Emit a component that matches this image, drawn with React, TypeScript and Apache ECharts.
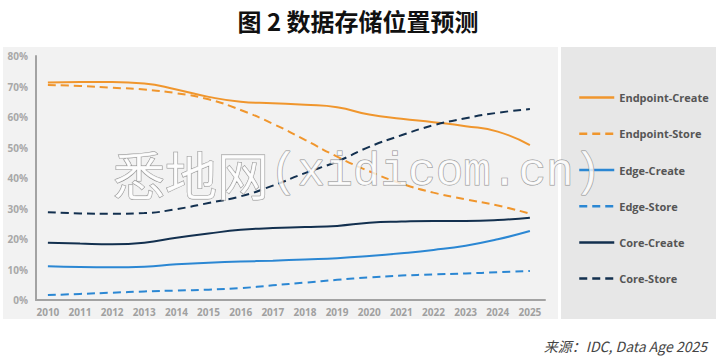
import React, { useEffect, useRef } from "react";
import * as echarts from "echarts";

const years = [2010, 2011, 2012, 2013, 2014, 2015, 2016, 2017, 2018, 2019, 2020, 2021, 2022, 2023, 2024, 2025];
const endpointCreate = [71.3, 71.5, 71.5, 71, 69, 66.6, 65, 64.5, 64, 63.2, 60.8, 59.4, 58.3, 57, 55.2, 50.8];
const endpointStore = [70.5, 70.2, 69.6, 69, 67.8, 65.8, 62.3, 57.8, 52.5, 47, 42.2, 38.2, 35.2, 33, 31, 28.3];
const edgeCreate = [11.1, 10.8, 10.7, 10.9, 11.7, 12.2, 12.6, 12.9, 13.3, 13.7, 14.4, 15.3, 16.4, 17.8, 19.9, 22.6];
const edgeStore = [1.6, 2.0, 2.4, 2.8, 3.1, 3.4, 3.9, 4.8, 5.7, 6.6, 7.4, 8.0, 8.4, 8.7, 9.1, 9.5];
const coreCreate = [18.8, 18.5, 18.3, 18.8, 20.4, 21.8, 23.0, 23.6, 23.9, 24.3, 25.3, 25.7, 25.9, 25.9, 26.2, 27.0];
const coreStore = [28.8, 28.4, 28.3, 28.5, 29.8, 31.8, 34.0, 37.5, 41.6, 45.4, 50.2, 54.0, 57.3, 59.6, 61.4, 62.6];
const yTicks = [0, 10, 20, 30, 40, 50, 60, 70, 80];

const ORANGE = "#f0962d";
const BLUE = "#2b87d3";
const NAVY = "#13304f";

const seriesDefs = [
  { name: "Endpoint-Create", data: endpointCreate, color: ORANGE, dashed: false },
  { name: "Endpoint-Store", data: endpointStore, color: ORANGE, dashed: true },
  { name: "Edge-Create", data: edgeCreate, color: BLUE, dashed: false },
  { name: "Edge-Store", data: edgeStore, color: BLUE, dashed: true },
  { name: "Core-Create", data: coreCreate, color: NAVY, dashed: false },
  { name: "Core-Store", data: coreStore, color: NAVY, dashed: true },
];

export default function App() {
  const ref = useRef<HTMLDivElement>(null);
  useEffect(() => {
    if (!ref.current) return;
    const chart = echarts.init(ref.current, null, { renderer: "svg" });
    const option: any = {
      animation: false,
      backgroundColor: "#ffffff",
      title: {
        text: "图 2 数据存储位置预测",
        left: "center",
        top: 3,
        textStyle: {
          fontFamily: "Noto Sans CJK SC",
          fontWeight: "bold",
          fontSize: 24,
          color: "#111",
        },
      },
      grid: { left: 36, right: 171, top: 56, bottom: 56 },
      xAxis: {
        type: "value",
        min: 2009.63,
        max: 2025.47,
        splitLine: { show: false },
        axisLine: { show: true, lineStyle: { color: "#a3a3a3", width: 2 } },
        axisTick: { show: false },
        axisLabel: {
          customValues: years,
          formatter: (v: number) => String(Math.round(v)),
          color: "#a0a0a0",
          fontWeight: "bold",
          fontSize: 10,
          fontFamily: "Open Sans",
          margin: 7,
        },
      },
      yAxis: {
        type: "value",
        min: 0,
        max: 80,
        interval: 10,
        splitLine: { show: false },
        axisLine: { show: true, lineStyle: { color: "#a3a3a3", width: 2 } },
        axisTick: { show: false },
        axisLabel: {
          customValues: yTicks,
          formatter: "{value}%",
          color: "#a8a8a8",
          fontWeight: "bold",
          fontSize: 10,
          fontFamily: "Open Sans",
          margin: 8,
        },
      },
      legend: {
        orient: "vertical",
        left: 573,
        top: 87,
        itemWidth: 35,
        itemHeight: 14,
        itemGap: 25,
        itemStyle: { opacity: 0, borderWidth: 0 },
        lineStyle: { width: 2.5 },
        textStyle: {
          color: "#555",
          fontWeight: "bold",
          fontSize: 11,
          fontFamily: "Open Sans",
          padding: [0, 0, 0, 0],
        },
        data: seriesDefs.map((s) => s.name),
      },
      series: seriesDefs.map((s) => ({
        name: s.name,
        type: "line",
        smooth: true,
        symbol: "none",
        data: s.data.map((v, i) => [years[i], v]),
        itemStyle: { color: s.color },
        lineStyle: {
          color: s.color,
          width: 2,
          type: s.dashed ? [8, 5] : "solid",
        },
        z: 3,
      })),
      graphic: [
        {
          type: "rect",
          z: -10,
          silent: true,
          shape: { x: 3, y: 47, width: 555, height: 272 },
          style: { fill: "#f2f2f2" },
        },
        {
          type: "rect",
          z: -10,
          silent: true,
          shape: { x: 561, y: 47, width: 155, height: 272 },
          style: { fill: "#e7e7e7" },
        },
        {
          type: "text",
          z: 100,
          silent: true,
          x: 113,
          y: 173,
          style: {
            text: "悉地网",
            font: "52px 'Noto Sans CJK SC'",
            fill: "rgba(255,255,255,0.8)",
            stroke: "#8f8f8f",
            lineWidth: 1,
            textVerticalAlign: "middle",
          },
        },
        {
          type: "text",
          z: 100,
          silent: true,
          x: 270,
          y: 173,
          style: {
            text: "(xidicom.cn)",
            font: "46px 'Liberation Mono'",
            fill: "rgba(255,255,255,0.8)",
            stroke: "#8f8f8f",
            lineWidth: 1,
            textVerticalAlign: "middle",
          },
        },
        {
          type: "text",
          x: 707,
          y: 346,
          style: {
            text: "来源：IDC, Data Age 2025",
            font: "italic 14px 'Noto Sans CJK SC'",
            fill: "#444",
            textAlign: "right",
            textVerticalAlign: "middle",
          },
        },
      ],
    };
    chart.setOption(option);
    return () => chart.dispose();
  }, []);
  return (
    <div
      ref={ref}
      style={{ position: "fixed", left: 0, top: 0, width: 716, height: 356 }}
    />
  );
}
